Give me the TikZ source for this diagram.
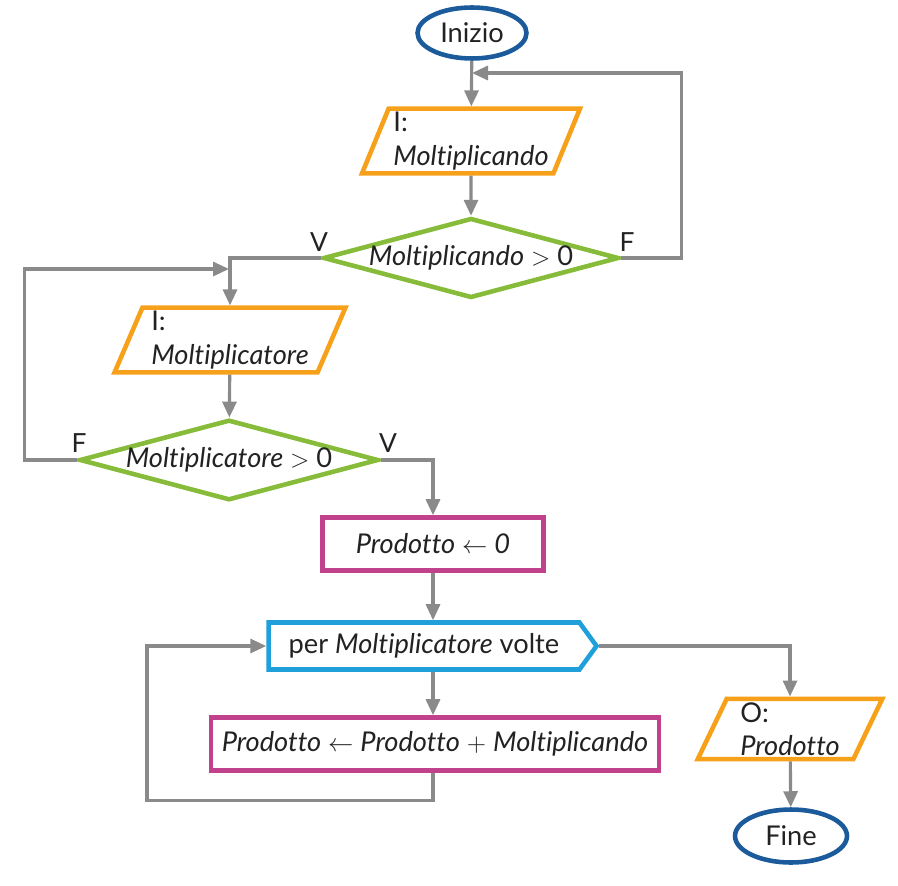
\documentclass[tikz,border=0pt]{standalone}
\usepackage{fontspec}
\setmainfont{Lato}[Ligatures={NoCommon}]
\usetikzlibrary{arrows.meta,shapes.geometric,shapes.symbols}
\definecolor{arancio}{HTML}{F7A11A}
\definecolor{verde}{HTML}{86BC3A}
\definecolor{viola}{HTML}{C2418C}
\definecolor{ciano}{HTML}{1FA0DA}
\definecolor{bluscuro}{HTML}{1B5A9B}
\definecolor{grigio}{HTML}{8A8A8A}
\definecolor{testo}{HTML}{222222}

\begin{document}
\begin{tikzpicture}[x=0.02cm, y=-0.02cm, font=\fontsize{15.5}{19}\selectfont, text=testo,
  >={Triangle[length=0.32cm,width=0.28cm]},
  estremo/.style={ellipse,draw=bluscuro,line width=2.6pt,minimum width=2.18cm,minimum height=1.02cm,inner sep=0pt},
  io/.style={trapezium,trapezium left angle=68,trapezium right angle=112,trapezium stretches=true,draw=arancio,line width=2.6pt,minimum height=1.18cm,align=left,inner sep=2pt},
  scelta/.style={diamond,draw=verde,line width=2.6pt,aspect=3.7,minimum height=1.52cm,inner sep=0pt},
  azione/.style={rectangle,draw=viola,line width=2.6pt,minimum height=1.06cm},
  ciclo/.style={signal,signal to=east,signal from=nowhere,signal pointer angle=108,draw=ciano,line width=2.6pt,minimum width=6.56cm,minimum height=0.94cm},
  freccia/.style={->,draw=grigio,line width=1.8pt},
  vf/.style={font=\fontsize{15}{18}\selectfont}]
\useasboundingbox (0,0) rectangle (898,885);

\node[estremo] (inizio) at (472,33) {Inizio};
\node[io,minimum width=4.36cm] (inp1) at (471,141) {I:\\\textit{Moltiplicando}};
\node[scelta,minimum width=5.88cm] (cond1) at (471,258) {\textit{Moltiplicando} $>$ 0};
\node[io,minimum width=4.62cm] (inp2) at (230,340) {I:\\\textit{Moltiplicatore}};
\node[scelta,minimum width=5.98cm] (cond2) at (229,460) {\textit{Moltiplicatore} $>$ 0};
\node[azione,minimum width=4.42cm] (init) at (433,544) {\textit{Prodotto} $\leftarrow$ \textit{0}};
\node[ciclo] (loop) at (424,646) {per \textit{Moltiplicatore} volte};
\node[azione,minimum width=8.96cm] (body) at (435,744) {\textit{Prodotto} $\leftarrow$ \textit{Prodotto} $+$ \textit{Moltiplicando}};
\node[io,minimum width=3.7cm] (out) at (790,729) {O:\\\textit{Prodotto}};
\node[estremo,minimum width=2.24cm,minimum height=1.06cm] (fine) at (791,836) {Fine};

% etichette vero / falso
\node[vf] (v1) at (319,242) {V};
\node[vf] (f1) at (627,242) {F};
\node[vf] (f2) at (79,443) {F};
\node[vf] (v2) at (388,443) {V};

\coordinate (join1) at (472,73);
\coordinate (join2) at (229,269);

\draw[freccia] (inizio) -- (inp1);
\draw[freccia] (inp1) -- (cond1);
\draw[freccia] (cond1.east) -- ++(60,0) |- (join1);
\draw[freccia] (cond1.west) -| (inp2);
\draw[freccia] (inp2) -- (cond2);
\draw[freccia] (cond2.west) -- ++(-53,0) |- (join2);
\draw[freccia] (cond2.east) -| (init);
\draw[freccia] (init) -- (init |- loop.north);
\draw[freccia] (init |- loop.south) -- (init |- body.north);
\draw[freccia] (init |- body.south) -- ++(0,28) -- ++(-286,0) |- (loop.west);
\draw[freccia] (loop.east) -| (out);
\draw[freccia] (out) -- (fine);

\end{tikzpicture}
\end{document}
